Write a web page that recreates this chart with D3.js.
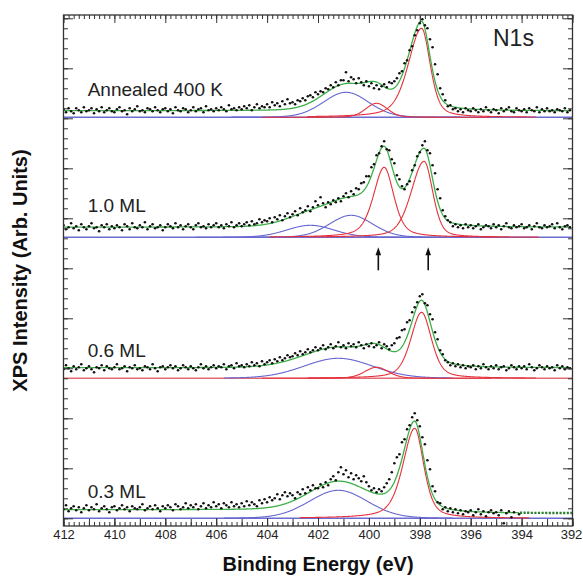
<!DOCTYPE html>
<html>
<head>
<meta charset="utf-8">
<script src="https://cdn.jsdelivr.net/npm/d3@7"></script>
<style>
  html, body { margin: 0; padding: 0; background: #fff; }
  svg { display: block; font-family: "Liberation Sans", Arial, sans-serif; }
</style>
</head>
<body>
<svg id="chart" width="583" height="579"></svg>
<script>
// ---------------------------------------------------------------
// N1s XPS spectra: measured counts, fitted components and envelope
// ---------------------------------------------------------------

// Binding-energy axis labels (eV)
const energyTicks = [412, 410, 408, 406, 404, 402, 400, 398, 396, 394, 392];

// Spectra, top to bottom
const spectrumNames = ["Annealed 400 K", "1.0 ML", "0.6 ML", "0.3 ML"];
// Vertical offset of each spectrum (arb. units)
const spectrumOffsets = [40.1, 28.1, 14.0, 0];

// Every scan starts at 412 eV and steps 0.1 eV towards lower binding energy
const scanStart = 412;
const scanStep = 0.1;

// Measured intensities above each spectrum's baseline (arb. units)
const countsAnnealed = [
  0.8,0.5,0.9,0.6,0.4,0.9,0.7,0.5,1.0,0.6,
  0.7,0.9,0.4,0.8,0.6,1.0,0.5,0.7,0.9,0.6,
  0.5,0.8,1.0,0.6,0.7,0.3,0.9,0.6,0.8,1.1,
  0.6,0.7,0.5,0.9,0.8,0.6,1.0,0.7,0.5,0.8,
  0.9,0.6,0.8,0.4,1.0,0.7,0.6,0.9,0.8,0.5,
  0.7,1.0,0.6,0.8,0.9,0.5,1.1,0.7,0.8,0.6,
  0.9,0.7,1.0,0.8,0.6,1.2,0.8,0.9,0.7,1.0,
  0.8,1.1,0.9,1.2,0.7,1.0,1.3,0.9,1.1,1.0,
  1.3,1.0,1.5,1.2,1.4,1.1,1.6,1.3,1.8,1.4,
  1.5,1.3,1.7,1.6,1.9,1.7,2.1,2.2,2.0,2.5,
  2.3,2.6,2.5,2.9,2.8,3.2,3.0,3.5,3.2,3.7,
  3.7,4.5,3.6,4.0,3.8,3.4,3.9,3.5,3.2,3.6,
  3.1,3.4,2.9,3.2,2.8,3.1,3.3,3.0,3.5,3.4,
  3.6,3.9,4.4,4.6,5.4,5.7,6.7,7.1,8.2,8.7,
  9.4,9.8,9.2,8.9,7.8,7.0,5.3,4.3,2.9,2.3,
  1.7,1.1,1.2,0.8,0.9,0.6,0.8,0.5,0.9,0.7,
  0.6,0.9,0.7,0.5,0.8,0.6,1.0,0.7,0.5,0.8,
  0.7,0.4,0.9,0.6,0.8,1.0,0.6,0.5,0.9,0.7,
  0.6,0.8,0.5,0.9,0.7,0.6,1.0,0.5,0.8,0.6,
  0.9,0.6,0.7,0.5,0.8,0.7,0.6,0.9,0.5,0.7
];
const counts10ML = [
  1.2,0.8,1.0,1.4,0.9,1.1,0.7,1.3,1.0,0.8,
  1.1,1.4,0.9,1.0,0.6,1.2,1.0,1.3,0.8,1.1,
  0.9,1.2,1.0,0.7,1.3,1.1,0.8,1.4,1.0,0.9,
  1.2,1.0,1.5,0.8,1.1,1.3,0.9,1.0,1.2,0.7,
  1.0,1.3,1.1,0.9,1.4,1.0,1.2,0.8,1.1,1.3,
  1.0,0.8,1.2,1.4,1.0,1.1,0.9,1.3,1.0,1.2,
  1.4,1.0,1.2,0.9,1.3,1.1,1.5,1.0,1.2,1.4,
  1.1,1.3,1.5,1.2,1.6,1.3,1.4,1.8,1.5,1.7,
  1.6,1.9,1.5,2.0,1.8,2.2,1.7,2.1,2.4,2.0,
  2.3,2.6,2.2,2.9,2.5,2.7,3.1,2.6,3.0,3.6,
  3.2,4.0,3.4,3.0,3.5,3.3,3.7,3.5,3.9,3.6,
  4.1,4.4,4.0,4.6,4.3,4.9,4.8,5.4,5.5,6.1,
  6.1,7.0,7.3,8.2,8.4,9.1,9.6,8.8,8.7,7.8,
  7.4,6.2,5.8,5.1,4.8,5.3,5.6,6.7,7.2,8.1,
  8.5,9.2,9.6,8.7,8.4,7.2,6.4,4.8,3.9,2.7,
  2.1,1.7,1.5,1.1,1.3,1.0,1.2,0.9,1.3,1.0,
  1.2,0.9,1.1,1.3,0.8,1.0,1.2,1.1,0.9,1.3,
  1.0,1.2,0.8,1.1,1.4,1.0,0.9,1.2,1.0,1.1,
  1.3,0.9,1.0,1.2,0.8,1.1,1.4,1.0,0.9,1.2,
  1.0,1.1,1.3,0.9,1.4,1.0,0.8,1.1,1.2,1.0
];
const counts06ML = [
  0.9,1.3,1.0,0.7,1.2,0.9,1.1,1.4,0.8,1.0,
  1.2,0.9,0.6,1.1,1.0,1.3,0.8,1.2,1.0,0.9,
  1.1,1.4,0.9,1.0,1.2,0.7,1.1,1.0,1.3,0.9,
  1.0,0.8,1.2,1.1,0.9,1.4,1.0,0.7,1.1,1.2,
  0.9,1.1,1.3,1.0,1.2,0.8,1.0,1.3,1.1,0.9,
  1.2,1.0,0.8,1.1,1.4,1.0,1.2,0.9,1.1,1.3,
  1.0,1.2,1.1,1.4,0.9,1.2,1.3,1.0,1.5,1.2,
  1.3,1.1,1.4,1.2,1.6,1.3,1.5,1.2,1.7,1.4,
  1.6,1.8,1.5,1.9,1.7,2.1,1.8,2.0,2.3,2.1,
  2.2,2.5,2.3,2.7,2.4,2.6,2.9,2.6,2.8,3.1,
  2.8,3.0,3.3,2.9,3.1,3.4,3.0,3.2,3.6,3.1,
  3.3,3.0,3.5,3.2,3.4,3.1,3.6,3.3,3.0,3.4,
  3.2,3.5,3.1,3.3,3.6,3.0,3.4,3.2,2.9,3.3,
  3.5,4.0,4.1,4.8,4.9,5.6,5.8,6.6,7.1,7.6,
  8.2,8.4,7.5,7.3,6.4,5.9,4.6,3.9,2.8,2.4,
  1.8,1.6,1.3,1.5,1.2,1.4,1.1,1.3,1.0,1.2,
  1.1,1.3,0.9,1.2,1.0,1.4,1.1,0.9,1.2,1.0,
  1.3,0.9,1.1,1.2,0.8,1.0,1.3,1.1,0.9,1.2,
  1.0,1.2,0.9,1.4,1.1,0.8,1.0,1.3,1.1,0.9,
  1.2,1.0,1.1,0.8,1.3,1.0,1.2,0.9,1.1,1.0
];
const counts03ML = [
  0.9,1.3,0.7,1.0,1.2,0.8,1.1,0.6,1.0,1.3,
  0.8,1.1,0.9,1.4,0.7,1.0,1.2,0.9,0.6,1.1,
  1.2,0.8,1.0,1.3,0.9,1.1,0.7,1.2,1.0,0.9,
  1.1,1.4,0.8,1.0,1.2,0.9,1.3,1.0,0.7,1.2,
  1.0,1.3,1.1,0.8,1.4,1.2,0.9,1.1,1.5,1.0,
  1.3,1.1,1.4,0.9,1.2,1.5,1.0,1.3,1.1,1.6,
  1.2,1.4,1.0,1.5,1.3,1.1,1.6,1.2,1.4,1.1,
  1.5,1.2,1.7,1.3,1.6,1.4,1.2,1.8,1.5,1.9,
  1.6,2.1,1.8,2.0,2.4,1.9,2.3,2.6,2.2,2.5,
  2.3,2.0,2.6,2.4,2.9,2.5,3.1,2.8,3.3,3.0,
  3.0,3.4,3.1,3.6,3.3,3.9,4.2,3.8,4.6,5.1,
  4.4,4.8,4.1,4.5,3.9,4.3,4.0,3.7,4.2,3.6,
  3.2,2.8,3.0,2.6,2.9,2.7,3.1,3.5,3.9,4.6,
  5.5,6.1,6.4,7.6,7.9,8.9,9.3,10.1,10.5,9.8,
  9.2,8.1,7.4,5.8,4.9,3.2,2.7,1.6,1.5,0.9,
  1.1,0.7,1.0,0.6,0.9,0.5,0.8,0.4,0.7,0.6,
  0.8,0.3,0.6,0.9,0.4,0.7,0.2,0.6,0.8,0.5,
  0.6,0.3,0.8,-0.5,0.5,0.7,0.1,0.6,-0.8,0.4
];

// Fitted components: [centre eV, height, HWHM high-BE side, HWHM low-BE side, Lorentzian fraction]
const peaksAnnealed = [[400.9, 2.5, 1.05, 1.05, 0.1], [399.7, 1.4, 0.5, 0.5, 0.2], [397.93, 8.9, 0.62, 0.4, 0.45]];
const peaks10ML     = [[402.3, 1.2, 1.1, 1.1, 0.1], [400.7, 2.2, 1.0, 1.0, 0.1], [399.4, 7.0, 0.5, 0.45, 0.5], [397.83, 7.6, 0.6, 0.4, 0.35]];
const peaks06ML     = [[401.2, 2.0, 1.6, 1.6, 0.1], [399.7, 1.1, 0.55, 0.55, 0.2], [397.93, 6.6, 0.5, 0.46, 0.45]];
const peaks03ML     = [[401.2, 2.8, 1.35, 1.35, 0.1], [398.2, 9.0, 0.55, 0.42, 0.5]];
// Component family of each peak above
const familyAnnealed = ["broad", "narrow", "narrow"];
const family10ML     = ["broad", "broad", "narrow", "narrow"];
const family06ML     = ["broad", "narrow", "narrow"];
const family03ML     = ["broad", "narrow"];

// Background level [low-BE side, high-BE side]
const backgroundLevels = [[0.65, 0.65], [1.0, 1.0], [1.05, 1.05], [0.5, 0.85]];

// Marked binding energies in the 1.0 ML spectrum
const markedEnergies = [399.63, 397.67];

// ---------------------------------------------------------------
const counts = [countsAnnealed, counts10ML, counts06ML, counts03ML];
const peaks = [peaksAnnealed, peaks10ML, peaks06ML, peaks03ML];
const families = [familyAnnealed, family10ML, family06ML, family03ML];

const colors = {
  broad: "#6767d2",
  narrow: "#e5323c",
  envelope: "#3caf48",
  envelopeTail: "#2f7f34",
  points: "#111",
  axis: "#333"
};
const baselineColor = ["#6b6bd0", "#6b6bd0", "#e46a72", "#6b6bd0"];
const labelLift = [2.1, 2.5, 2.1, 2.0];

const svg = d3.select("#chart");
const plot = { left: 63.5, right: 572.5, top: 15, bottom: 526 };

const x = d3.scaleLinear().domain([412, 392]).range([plot.left, plot.right]);
const y = d3.scaleLinear().domain([-0.77, 50.33]).range([plot.bottom, plot.top]);

// pseudo-Voigt line shape with different widths on either side
function lineShape(E, p) {
  const [c, h, wHigh, wLow, eta] = p;
  const w = E > c ? wHigh : wLow;
  const r = (E - c) / w;
  return h * (eta / (1 + r * r) + (1 - eta) * Math.exp(-Math.LN2 * r * r));
}

const fineGrid = d3.range(392, 412.0001, 0.02);   // ascending energy

svg.append("defs").append("clipPath").attr("id", "plotClip")
  .append("rect").attr("x", plot.left).attr("y", plot.top)
  .attr("width", plot.right - plot.left).attr("height", plot.bottom - plot.top);

const layer = svg.append("g").attr("clip-path", "url(#plotClip)");

spectrumNames.forEach((name, k) => {
  const off = spectrumOffsets[k];
  const pk = peaks[k];
  const fam = families[k];
  const [bgLow, bgHigh] = backgroundLevels[k];

  // component sum and a Shirley-type step background
  const sums = fineGrid.map(E => d3.sum(pk, p => lineShape(E, p)));
  const total = d3.sum(sums);
  let acc = 0;
  const envelope = fineGrid.map((E, i) => {
    acc += sums[i];
    const bg = bgLow + (bgHigh - bgLow) * (total > 0 ? acc / total : 0);
    return { E, v: bg + sums[i] };
  });

  const g = layer.append("g");

  // baseline
  g.append("line")
    .attr("x1", x(412)).attr("x2", x(392))
    .attr("y1", y(off)).attr("y2", y(off))
    .attr("stroke", baselineColor[k]).attr("stroke-width", 1.4);

  // components
  const compLine = d3.line().x(d => x(d.E)).y(d => y(off + d.v));
  pk.forEach((p, j) => {
    const pts = fineGrid.filter(E => Math.abs(E - p[0]) <= 4.5).map(E => ({ E, v: lineShape(E, p) }));
    g.append("path").datum(pts)
      .attr("d", compLine)
      .attr("fill", "none")
      .attr("stroke", colors[fam[j]])
      .attr("stroke-width", 1.1);
  });

  // envelope: solid over the measured range, dotted beyond it
  const lastE = scanStart - scanStep * (counts[k].length - 1);
  g.append("path").datum(envelope.filter(d => d.E >= lastE - 0.01))
    .attr("d", compLine)
    .attr("fill", "none").attr("stroke", colors.envelope).attr("stroke-width", 1.3);
  const tail = envelope.filter(d => d.E <= lastE + 0.01);
  if (tail.length > 2 && lastE > 392.5) {
    g.append("path").datum(tail)
      .attr("d", compLine)
      .attr("fill", "none").attr("stroke", colors.envelopeTail)
      .attr("stroke-width", 2.4).attr("stroke-dasharray", "2.2,1.4");
  }

  // measured points
  g.selectAll("circle.pt").data(counts[k]).join("circle")
    .attr("class", "pt")
    .attr("cx", (v, i) => x(scanStart - scanStep * i))
    .attr("cy", v => y(off + v))
    .attr("r", 1.3)
    .attr("fill", colors.points);

  // spectrum label
  svg.append("text")
    .attr("x", x(411.05)).attr("y", y(off + labelLift[k]))
    .attr("font-size", 19).attr("fill", "#222")
    .text(name);
});

// arrows under the 1.0 ML spectrum
const arrowG = svg.append("g");
markedEnergies.forEach(E => {
  const ax = x(E);
  const yTip = y(spectrumOffsets[1] - 1.0);
  const yTail = y(spectrumOffsets[1] - 3.3);
  arrowG.append("line")
    .attr("x1", ax).attr("x2", ax).attr("y1", yTail).attr("y2", yTip + 6)
    .attr("stroke", "#111").attr("stroke-width", 1.6);
  arrowG.append("path")
    .attr("d", `M${ax},${yTip} L${ax - 2.8},${yTip + 8} L${ax + 2.8},${yTip + 8} Z`)
    .attr("fill", "#111");
});

// ---------------- axes ----------------
function styleAxis(g) {
  g.select(".domain").remove();
  g.selectAll(".tick line").attr("stroke", colors.axis).attr("stroke-width", 1);
}
const minorE = d3.range(392, 412.001, 0.2).map(v => +v.toFixed(1));
const unitE = d3.range(392, 413, 1);
const minorY = d3.range(0, 51, 1);
const majorY = d3.range(0, 51, 5);

// bottom
svg.append("g").attr("transform", `translate(0,${plot.bottom})`)
  .call(d3.axisBottom(x).tickValues(minorE).tickSize(-4).tickFormat(""))
  .call(styleAxis);
svg.append("g").attr("transform", `translate(0,${plot.bottom})`)
  .call(d3.axisBottom(x).tickValues(unitE).tickSize(-7).tickFormat(""))
  .call(styleAxis);
const xLab = svg.append("g").attr("transform", `translate(0,${plot.bottom})`)
  .call(d3.axisBottom(x).tickValues(energyTicks).tickSize(-8).tickPadding(4).tickFormat(d3.format("d")))
  .call(styleAxis);
xLab.selectAll("text").attr("font-size", 13).attr("fill", "#222")
  .attr("font-family", "Liberation Sans, Arial, sans-serif");
// keep the last label inside the page
xLab.selectAll("text").filter(d => d === 392).attr("dx", "-1.5");

// top
svg.append("g").attr("transform", `translate(0,${plot.top})`)
  .call(d3.axisTop(x).tickValues(minorE).tickSize(-4).tickFormat(""))
  .call(styleAxis);
svg.append("g").attr("transform", `translate(0,${plot.top})`)
  .call(d3.axisTop(x).tickValues(energyTicks).tickSize(-8).tickFormat(""))
  .call(styleAxis);

// left & right
[[d3.axisLeft, plot.left], [d3.axisRight, plot.right]].forEach(([gen, pos]) => {
  svg.append("g").attr("transform", `translate(${pos},0)`)
    .call(gen(y).tickValues(minorY).tickSize(-4.5).tickFormat(""))
    .call(styleAxis);
  svg.append("g").attr("transform", `translate(${pos},0)`)
    .call(gen(y).tickValues(majorY).tickSize(-9.5).tickFormat(""))
    .call(styleAxis);
});

// frame
svg.append("rect")
  .attr("x", plot.left).attr("y", plot.top)
  .attr("width", plot.right - plot.left).attr("height", plot.bottom - plot.top)
  .attr("fill", "none").attr("stroke", colors.axis).attr("stroke-width", 1.3);

// titles
svg.append("text")
  .attr("x", (plot.left + plot.right) / 2).attr("y", 571)
  .attr("text-anchor", "middle").attr("font-size", 20).attr("font-weight", "bold")
  .attr("fill", "#111")
  .text("Binding Energy (eV)");
svg.append("text")
  .attr("transform", `translate(27,${(plot.top + plot.bottom) / 2}) rotate(-90)`)
  .attr("text-anchor", "middle").attr("font-size", 20).attr("font-weight", "bold")
  .attr("fill", "#111")
  .text("XPS Intensity (Arb. Units)");
svg.append("text")
  .attr("x", 493).attr("y", 46)
  .attr("font-size", 23).attr("fill", "#222")
  .text("N1s");
</script>
</body>
</html>
